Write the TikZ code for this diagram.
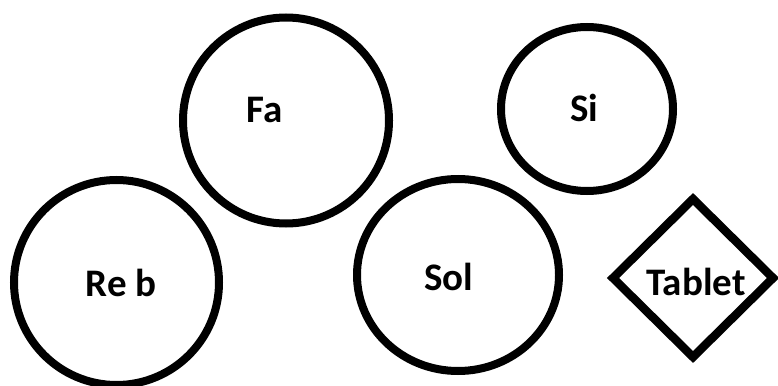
\documentclass[tikz,border=0pt]{standalone}
\usepackage{fontspec}
\setmainfont{Carlito}
\usetikzlibrary{shapes.geometric}
\tikzset{
  ring/.style={draw=black, line width=8pt, ellipse, inner sep=0pt, outer sep=0pt},
  rhomb/.style={draw=black, line width=8.5pt, diamond, inner sep=0pt, outer sep=0pt, line join=miter},
  lbl/.style={anchor=base, inner sep=0pt, font=\fontsize{39}{46}\selectfont\bfseries}
}
\begin{document}
\begin{tikzpicture}[x=1pt,y=-1pt]
\useasboundingbox (0,0) rectangle (778,385);
\fill[white] (0,0) rectangle (778,385);
\node[ring, minimum width=206pt, minimum height=206pt] (fa) at (286,120.5) {};
\node[ring, minimum width=205pt, minimum height=205pt] (reb) at (116.5,282.5) {};
\node[ring, minimum width=172pt, minimum height=164pt] (si) at (587,109) {};
\node[ring, minimum width=202pt, minimum height=192pt] (sol) at (458,275) {};
\node[rhomb, minimum width=160pt, minimum height=158pt] (tab) at (693,278) {};
\node[lbl] (faT) at (265,122) {Fa};
\node[lbl] (rebT) at (121,296.5) {Re b};
\node[lbl] (siT) at (584,121.5) {Si};
\node[lbl] (solT) at (449,290) {Sol};
\node[lbl] (tabT) at (696,295) {Tablet};
\end{tikzpicture}
\end{document}
